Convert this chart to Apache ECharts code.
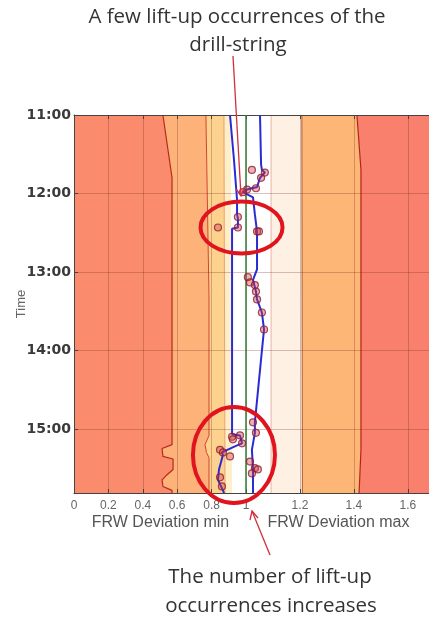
<!DOCTYPE html>
<html>
<head>
<meta charset="utf-8">
<script src="https://cdn.jsdelivr.net/npm/echarts@6/dist/echarts.min.js"></script>
<style>
  html, body { margin: 0; padding: 0; background: #fff; }
  #c { width: 429px; height: 617px; }
</style>
</head>
<body>
<div id="c"></div>
<script>
// Time is stored as minutes since midnight.
const timeTicks = [660, 720, 780, 840, 900];
const minTickValues = [0, 0.2, 0.4, 0.6, 0.8, 1];
const maxTickValues = [1.2, 1.4, 1.6];

// FRW deviation envelope: [deviation, minute]
const frwMinTrace = [
  [0.907, 660], [0.930, 694], [0.948, 725], [0.948, 736], [0.953, 739], [0.953, 746],
  [0.919, 747], [0.919, 904], [0.965, 905], [0.977, 911], [0.942, 913], [0.860, 918],
  [0.866, 920], [0.843, 931], [0.837, 939], [0.866, 947], [0.872, 949]
];
const frwMaxTrace = [
  [1.052, 660], [1.056, 698], [1.059, 702], [1.070, 704], [1.052, 708], [1.041, 715],
  [1.004, 717], [0.989, 719], [1.026, 723], [1.033, 736], [1.041, 749], [1.041, 778],
  [1.026, 786], [1.037, 795], [1.041, 801], [1.059, 811], [1.067, 824], [1.063, 832],
  [1.033, 895], [1.033, 903], [1.022, 916], [1.026, 930], [1.026, 949]
];

// Lift-up occurrences of the drill-string
const liftUpMin = [
  [0.837, 746], [0.953, 738], [0.953, 746], [0.919, 906], [0.965, 905], [0.977, 911],
  [0.924, 908], [0.849, 916], [0.866, 918], [0.907, 921], [0.849, 937], [0.860, 944]
];
const liftUpMax = [
  [1.022, 702], [1.070, 704], [1.056, 708], [1.037, 716], [1.004, 717], [0.989, 719],
  [1.041, 749], [1.048, 749], [1.007, 784], [1.015, 788], [1.033, 790], [1.037, 795],
  [1.041, 801], [1.059, 811], [1.067, 824], [1.026, 895], [1.037, 903], [1.015, 925],
  [1.033, 930], [1.044, 931], [1.022, 934]
];

// Contour boundaries on the "min" side (0 .. 1)
const minEdge0 = [[0, 660], [0, 949]];
const minEdge1 = [
  [0.517, 660], [0.570, 708], [0.570, 912], [0.512, 915], [0.517, 921], [0.576, 923],
  [0.576, 931], [0.541, 935], [0.512, 939], [0.517, 944], [0.570, 947], [0.570, 949]
];
const minEdge2 = [[0.767, 660], [0.785, 800], [0.785, 905], [0.762, 912], [0.770, 918], [0.785, 922], [0.785, 949]];
const minEdge3 = [[0.872, 660], [0.878, 949]];
const minEdge4 = [[0.913, 660], [0.919, 949]];
const minEdge5 = [[1, 660], [1, 949]];

// Contour boundaries on the "max" side (1 .. 1.68)
const maxEdge0 = [[1, 660], [1, 949]];
const maxEdge1 = [[1.093, 660], [1.093, 949]];
const maxEdge2 = [[1.207, 660], [1.209, 949]];
const maxEdge3 = [[1.411, 660], [1.426, 702], [1.426, 916], [1.419, 949]];
const maxEdge4 = [[1.678, 660], [1.678, 949]];

const minBandFills = ['#fa8b6c', '#fdb27a', '#fdd18e', '#feefc8', '#ffffff'];
const maxBandFills = ['#ffffff', '#fef0e2', '#fdb676', '#f9806c'];

const minEdges = [minEdge0, minEdge1, minEdge2, minEdge3, minEdge4, minEdge5];
const maxEdges = [maxEdge0, maxEdge1, maxEdge2, maxEdge3, maxEdge4];

const fmtTime = v => {
  const h = Math.floor(v / 60), m = Math.round(v % 60);
  return h + ':' + (m < 10 ? '0' : '') + m;
};

function bandSeries(edges, fills, axisIdx) {
  return {
    type: 'custom', xAxisIndex: axisIdx, yAxisIndex: axisIdx, z: 1, silent: true,
    data: fills.map((f, i) => [i, 700]),
    renderItem(params, api) {
      const i = params.dataIndex;
      const a = edges[i].map(p => api.coord(p));
      const b = edges[i + 1].map(p => api.coord(p)).reverse();
      return { type: 'polygon', shape: { points: a.concat(b) }, style: { fill: fills[i] } };
    }
  };
}

function edgeLine(data, axisIdx, color, width) {
  return {
    type: 'line', xAxisIndex: axisIdx, yAxisIndex: axisIdx, data, z: 2, silent: true,
    showSymbol: false, symbol: 'none', lineStyle: { color, width }
  };
}

const gridRect = { left: 74, top: 115, width: 355, height: 378, containLabel: false, outerBoundsMode: 'none' };
const splitStyle = { show: true, lineStyle: { color: 'rgba(110,40,20,0.28)', width: 1 } };
const tickLine = { color: '#444' };
const axisFont = { fontFamily: 'Liberation Sans', fontSize: 12, color: '#666' };
const nameFont = { fontFamily: 'Liberation Sans', fontSize: 16, color: '#555' };

const chart = echarts.init(document.getElementById('c'));

chart.setOption({
  animation: false,
  backgroundColor: '#fff',
  grid: [Object.assign({}, gridRect), Object.assign({}, gridRect)],
  xAxis: [
    {
      type: 'value', gridIndex: 0, position: 'bottom', min: 0, max: 2.064, z: 3,
      name: 'FRW Deviation min', nameLocation: 'middle', nameGap: 22, nameMoveOverlap: false,
      nameTextStyle: Object.assign({ padding: [0, 182, 0, 0] }, nameFont),
      axisLine: { show: true, lineStyle: { color: '#444', width: 1 } },
      axisTick: { show: true, inside: true, length: 4, customValues: minTickValues, lineStyle: tickLine },
      axisLabel: Object.assign({ customValues: minTickValues, margin: 7 }, axisFont),
      splitLine: splitStyle
    },
    {
      type: 'value', gridIndex: 1, position: 'bottom', min: 0.363, max: 1.678, z: 3,
      name: 'FRW Deviation max', nameLocation: 'middle', nameGap: 22, nameMoveOverlap: false,
      nameTextStyle: Object.assign({ padding: [0, 0, 0, 174] }, nameFont),
      axisLine: { show: false },
      axisTick: { show: true, inside: true, length: 4, customValues: maxTickValues, lineStyle: tickLine },
      axisLabel: Object.assign({ customValues: maxTickValues, margin: 7 }, axisFont),
      splitLine: splitStyle
    },
    {
      type: 'value', gridIndex: 0, position: 'top', min: 0, max: 2.064, z: 3,
      axisLine: { show: true, lineStyle: { color: '#444', width: 1 } },
      axisTick: { show: true, inside: true, length: 4, customValues: minTickValues, lineStyle: tickLine },
      axisLabel: { show: false }, splitLine: { show: false }
    },
    {
      type: 'value', gridIndex: 1, position: 'top', min: 0.363, max: 1.678, z: 3,
      axisLine: { show: false },
      axisTick: { show: true, inside: true, length: 4, customValues: maxTickValues, lineStyle: tickLine },
      axisLabel: { show: false }, splitLine: { show: false }
    }
  ],
  yAxis: [
    {
      type: 'value', gridIndex: 0, inverse: true, min: 660, max: 949, z: 3,
      name: 'Time', nameLocation: 'middle', nameGap: 46, nameRotate: 90, nameMoveOverlap: false,
      nameTextStyle: { fontFamily: 'Liberation Sans', fontSize: 13, color: '#666' },
      axisLine: { show: true, lineStyle: { color: '#444', width: 1 } },
      axisTick: { show: true, inside: true, length: 4, customValues: timeTicks, lineStyle: tickLine },
      axisLabel: {
        customValues: timeTicks, formatter: fmtTime, margin: 3,
        fontFamily: 'DejaVu Sans', fontWeight: 'bold', fontSize: 14, color: '#3a3a3a'
      },
      splitLine: splitStyle
    },
    { type: 'value', gridIndex: 1, inverse: true, min: 660, max: 949, show: false }
  ],
  series: [
    bandSeries(minEdges, minBandFills, 0),
    bandSeries(maxEdges, maxBandFills, 1),
    edgeLine(minEdge1, 0, '#b8281a', 1.2),
    edgeLine(minEdge2, 0, '#d0452e', 1),
    edgeLine(minEdge3, 0, '#eaa070', 1),
    edgeLine(maxEdge1, 1, '#e8b4a4', 1),
    edgeLine(maxEdge2, 1, '#a85a32', 1),
    edgeLine(maxEdge3, 1, '#b3241a', 1.2),
    {
      name: 'FRW = 1', type: 'line', xAxisIndex: 0, yAxisIndex: 0, z: 4, silent: true,
      data: [[1, 660], [1, 949]], showSymbol: false, symbol: 'none',
      lineStyle: { color: '#2e7d36', width: 1.5 }
    },
    {
      name: 'FRW Deviation min', type: 'line', xAxisIndex: 0, yAxisIndex: 0, z: 5,
      data: frwMinTrace, showSymbol: false, symbol: 'none',
      lineStyle: { color: '#2b2bd6', width: 2 }
    },
    {
      name: 'FRW Deviation max', type: 'line', xAxisIndex: 1, yAxisIndex: 1, z: 5,
      data: frwMaxTrace, showSymbol: false, symbol: 'none',
      lineStyle: { color: '#2b2bd6', width: 2 }
    },
    {
      name: 'Lift-up (min)', type: 'scatter', xAxisIndex: 0, yAxisIndex: 0, z: 6,
      data: liftUpMin, symbol: 'circle', symbolSize: 7,
      itemStyle: { color: 'rgba(205,60,70,0.5)', borderColor: '#8e1b2e', borderWidth: 1.2 }
    },
    {
      name: 'Lift-up (max)', type: 'scatter', xAxisIndex: 1, yAxisIndex: 1, z: 6,
      data: liftUpMax, symbol: 'circle', symbolSize: 7,
      itemStyle: { color: 'rgba(205,60,70,0.5)', borderColor: '#8e1b2e', borderWidth: 1.2 }
    }
  ]
});

// Annotations: highlight rings are anchored to the data they circle.
const ring1 = chart.convertToPixel({ xAxisIndex: 0, yAxisIndex: 0 }, [0.974, 746]);
const ring2 = chart.convertToPixel({ xAxisIndex: 0, yAxisIndex: 0 }, [0.930, 920]);
const red = '#e0141e';
const arrowRed = '#d0303a';
const noteFont = { fontFamily: 'Open Sans', fontSize: 20.5, fill: '#333' };

chart.setOption({
  graphic: [
    { type: 'ellipse', z: 100, shape: { cx: ring1[0], cy: ring1[1], rx: 41, ry: 26 },
      style: { fill: 'none', stroke: red, lineWidth: 4 } },
    { type: 'ellipse', z: 100, shape: { cx: ring2[0], cy: ring2[1], rx: 41, ry: 48 },
      style: { fill: 'none', stroke: red, lineWidth: 4 } },
    { type: 'text', z: 100, x: 237, y: 17,
      style: Object.assign({ text: 'A few lift-up occurrences of the', align: 'center', verticalAlign: 'middle' }, noteFont) },
    { type: 'text', z: 100, x: 238, y: 45,
      style: Object.assign({ text: 'drill-string', align: 'center', verticalAlign: 'middle' }, noteFont) },
    { type: 'text', z: 100, x: 270, y: 577,
      style: Object.assign({ text: 'The number of lift-up', align: 'center', verticalAlign: 'middle' }, noteFont) },
    { type: 'text', z: 100, x: 271, y: 606,
      style: Object.assign({ text: 'occurrences increases', align: 'center', verticalAlign: 'middle' }, noteFont) },
    { type: 'line', z: 100, shape: { x1: 233, y1: 56, x2: 241, y2: 196 },
      style: { stroke: arrowRed, lineWidth: 1.3 } },
    { type: 'polyline', z: 100, shape: { points: [[236, 189], [241, 196], [244, 188]] },
      style: { stroke: arrowRed, lineWidth: 1.3, fill: 'none' } },
    { type: 'line', z: 100, shape: { x1: 270, y1: 555, x2: 252, y2: 511 },
      style: { stroke: arrowRed, lineWidth: 1.3 } },
    { type: 'polyline', z: 100, shape: { points: [[250, 520], [252, 511], [258, 518]] },
      style: { stroke: arrowRed, lineWidth: 1.3, fill: 'none' } }
  ]
});
</script>
</body>
</html>
